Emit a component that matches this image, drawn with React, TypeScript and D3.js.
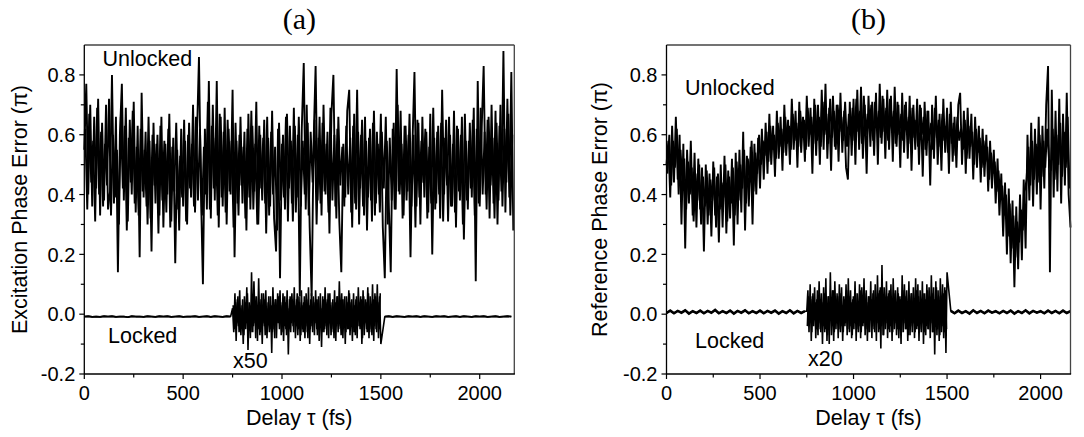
import React from "react";
import * as d3 from "d3";

// ---------- DATA ----------
// Panel (a): excitation phase error, unlocked. Samples every 10 fs from 0 fs,
// plus the interleaved samples every 10 fs from 5 fs.
const aUnlockedStep = 10;
const aUnlocked = [
  0.55, 0.77, 0.40, 0.70, 0.36, 0.66, 0.42, 0.72, 0.33, 0.64,
  0.38, 0.70, 0.35, 0.41, 0.80, 0.37, 0.66, 0.14, 0.60, 0.77,
  0.38, 0.69, 0.31, 0.65, 0.40, 0.71, 0.34, 0.63, 0.19, 0.74,
  0.39, 0.61, 0.30, 0.58, 0.21, 0.64, 0.37, 0.60, 0.33, 0.66,
  0.29, 0.57, 0.40, 0.67, 0.31, 0.59, 0.17, 0.55, 0.28, 0.62,
  0.36, 0.58, 0.30, 0.64, 0.39, 0.70, 0.34, 0.60, 0.86, 0.41,
  0.10, 0.62, 0.35, 0.78, 0.32, 0.70, 0.38, 0.78, 0.29, 0.66,
  0.36, 0.69, 0.30, 0.62, 0.40, 0.75, 0.19, 0.58, 0.33, 0.66,
  0.37, 0.61, 0.28, 0.67, 0.35, 0.63, 0.41, 0.71, 0.30, 0.60,
  0.38, 0.65, 0.27, 0.59, 0.36, 0.68, 0.32, 0.21, 0.62, 0.12,
  0.57, 0.39, 0.66, 0.31, 0.63, 0.37, 0.69, 0.34, 0.60, 0.06,
  0.62, 0.84, 0.35, 0.64, 0.29, 0.06, 0.58, 0.83, 0.38, 0.66,
  0.33, 0.70, 0.40, 0.61, 0.27, 0.67, 0.80, 0.36, 0.62, 0.31,
  0.14, 0.57, 0.39, 0.68, 0.75, 0.34, 0.63, 0.37, 0.75, 0.30,
  0.60, 0.36, 0.66, 0.28, 0.59, 0.38, 0.64, 0.33, 0.61, 0.40,
  0.67, 0.29, 0.12, 0.58, 0.37, 0.14, 0.62, 0.35, 0.82, 0.41,
  0.68, 0.32, 0.63, 0.38, 0.60, 0.19, 0.57, 0.81, 0.36, 0.64,
  0.30, 0.66, 0.39, 0.61, 0.34, 0.67, 0.20, 0.59, 0.37, 0.63,
  0.32, 0.75, 0.40, 0.65, 0.31, 0.60, 0.36, 0.68, 0.29, 0.62,
  0.38, 0.66, 0.25, 0.58, 0.35, 0.64, 0.39, 0.69, 0.11, 0.78,
  0.36, 0.62, 0.83, 0.40, 0.65, 0.32, 0.70, 0.37, 0.68, 0.30,
  0.63, 0.41, 0.88, 0.34, 0.72, 0.39, 0.81, 0.28,
];
const aUnlockedMidStart = 5;
const aUnlockedMid = [
  0.62, 0.35, 0.67, 0.44, 0.58, 0.31, 0.69, 0.40, 0.61, 0.36,
  0.57, 0.43, 0.72, 0.33, 0.60, 0.39, 0.55, 0.30, 0.66, 0.42,
  0.63, 0.28, 0.59, 0.44, 0.68, 0.37, 0.56, 0.33, 0.62, 0.41,
  0.55, 0.36, 0.66, 0.32, 0.60, 0.43, 0.57, 0.27, 0.63, 0.38,
  0.58, 0.34, 0.62, 0.29, 0.56, 0.41, 0.64, 0.35, 0.53, 0.39,
  0.65, 0.31, 0.60, 0.42, 0.57, 0.36, 0.66, 0.38, 0.62, 0.33,
  0.56, 0.40, 0.71, 0.35, 0.63, 0.42, 0.59, 0.33, 0.67, 0.39,
  0.61, 0.34, 0.65, 0.41, 0.58, 0.29, 0.64, 0.37, 0.60, 0.43,
  0.56, 0.32, 0.62, 0.39, 0.68, 0.35, 0.57, 0.30, 0.63, 0.42,
  0.59, 0.37, 0.66, 0.33, 0.61, 0.40, 0.56, 0.28, 0.64, 0.38,
  0.60, 0.35, 0.67, 0.42, 0.58, 0.31, 0.63, 0.39, 0.66, 0.36,
  0.58, 0.40, 0.70, 0.33, 0.61, 0.44, 0.65, 0.30, 0.59, 0.37,
  0.64, 0.41, 0.57, 0.34, 0.69, 0.38, 0.60, 0.32, 0.66, 0.43,
  0.56, 0.36, 0.63, 0.40, 0.59, 0.29, 0.67, 0.35, 0.61, 0.42,
  0.65, 0.33, 0.58, 0.39, 0.62, 0.31, 0.68, 0.37, 0.57, 0.34,
  0.61, 0.42, 0.66, 0.30, 0.59, 0.38, 0.64, 0.35, 0.70, 0.40,
  0.57, 0.33, 0.63, 0.41, 0.67, 0.36, 0.60, 0.29, 0.65, 0.39,
  0.58, 0.44, 0.62, 0.32, 0.56, 0.37, 0.69, 0.35, 0.61, 0.40,
  0.64, 0.31, 0.59, 0.43, 0.66, 0.36, 0.57, 0.34, 0.63, 0.41,
  0.60, 0.30, 0.67, 0.38, 0.58, 0.42, 0.65, 0.33, 0.62, 0.37,
  0.69, 0.40, 0.61, 0.35, 0.66, 0.43, 0.59, 0.32, 0.64, 0.38,
  0.70, 0.36, 0.62, 0.44, 0.67, 0.33, 0.60,
];

// Panel (a): locked trace (flat parts every 20 fs, x50 part every 6 fs from 750 fs)
const aLockedPreStep = 20; // 0 .. 740 fs
const aLockedPre = [
  -0.008, -0.007, -0.009, -0.008, -0.009, -0.007, -0.008, -0.007, -0.009, -0.008,
  -0.008, -0.010, -0.007, -0.008, -0.008, -0.009, -0.007, -0.008, -0.009, -0.007,
  -0.008, -0.007, -0.009, -0.008, -0.007, -0.009, -0.008, -0.008, -0.007, -0.009,
  -0.008, -0.007, -0.009, -0.007, -0.008, -0.009, -0.007, -0.008,
];
const aLockedX50Start = 750;
const aLockedX50Step = 6; // 750 .. 1500 fs
const aLockedX50 = [
  0.02, -0.06, 0.07, -0.09, 0.05, -0.04, 0.08, -0.07, 0.03, -0.10,
  0.06, -0.05, 0.09, -0.12, 0.04, -0.08, 0.14, -0.06, 0.11, -0.03,
  0.06, -0.09, 0.12, -0.07, 0.05, -0.10, 0.07, -0.04, 0.08, -0.08,
  0.04, -0.06, 0.06, -0.13, 0.09, -0.05, 0.05, -0.08, 0.07, -0.03,
  0.08, -0.07, 0.04, -0.09, 0.06, -0.05, 0.08, -0.135, 0.05, -0.06,
  0.07, -0.04, 0.09, -0.08, 0.05, -0.07, 0.06, -0.09, 0.08, -0.05,
  0.04, -0.08, 0.07, -0.06, 0.09, -0.10, 0.05, -0.04, 0.06, -0.07,
  0.08, -0.05, 0.05, -0.09, 0.07, -0.11, 0.06, -0.06, 0.09, -0.04,
  0.05, -0.08, 0.07, -0.07, 0.04, -0.05, 0.08, -0.09, 0.06, -0.06,
  0.11, -0.04, 0.07, -0.08, 0.05, -0.10, 0.06, -0.05, 0.08, -0.07,
  0.04, -0.09, 0.07, -0.06, 0.05, -0.08, 0.09, -0.04, 0.06, -0.10,
  0.08, -0.07, 0.05, -0.05, 0.09, -0.08, 0.06, -0.06, 0.10, -0.09,
  0.07, -0.05, 0.10, -0.08, 0.06, -0.10,
];
const aLockedX50MidStart = 753; // interleaved samples, 753 .. 1497 fs
const aLockedX50Mid = [
  0.03, -0.05, 0.04, -0.03, 0.06, -0.06, 0.02, -0.04, 0.05, -0.07,
  0.04, -0.03, 0.07, -0.05, 0.03, -0.06, 0.05, -0.04, 0.06, -0.08,
  0.03, -0.05, 0.04, -0.06, 0.07, -0.03, 0.05, -0.07, 0.02, -0.04,
  0.06, -0.05, 0.03, -0.06, 0.04, -0.08, 0.05, -0.03, 0.06, -0.05,
  0.03, -0.06, 0.07, -0.04, 0.04, -0.07, 0.02, -0.05, 0.06, -0.03,
  0.05, -0.06, 0.03, -0.04, 0.07, -0.05, 0.04, -0.07, 0.03, -0.06,
  0.06, -0.04, 0.05, -0.08, 0.03, -0.05, 0.07, -0.06, 0.04, -0.03,
  0.05, -0.07, 0.06, -0.04, 0.02, -0.06, 0.05, -0.05, 0.04, -0.07,
  0.07, -0.03, 0.03, -0.06, 0.05, -0.08, 0.04, -0.04, 0.06, -0.05,
  0.03, -0.07, 0.05, -0.03, 0.06, -0.06, 0.04, -0.05, 0.07, -0.04,
  0.05, -0.06, 0.03, -0.07, 0.06, -0.04, 0.04, -0.05, 0.05, -0.08,
  0.06, -0.03, 0.04, -0.06, 0.07, -0.05, 0.03, -0.07, 0.05, -0.04,
  0.06, -0.06, 0.04, -0.05, 0.07,
];
const aLockedPostStart = 1520;
const aLockedPostStep = 20; // 1520 .. 2160 fs
const aLockedPost = [
  -0.008, -0.007, -0.009, -0.007, -0.008, -0.009, -0.007, -0.008, -0.007, -0.009,
  -0.007, -0.008, -0.009, -0.007, -0.008, -0.007, -0.009, -0.008, -0.007, -0.009,
  -0.007, -0.008, -0.009, -0.007, -0.008, -0.007, -0.009, -0.008, -0.007, -0.009,
  -0.008, -0.007, -0.008,
];

// Panel (b): reference phase error, unlocked. Samples every 10 fs from 0 fs,
// plus the interleaved samples every 10 fs from 5 fs.
const bUnlockedStep = 10;
const bUnlocked = [
  0.50, 0.58, 0.39, 0.63, 0.44, 0.66, 0.45, 0.60, 0.30, 0.57,
  0.22, 0.55, 0.37, 0.58, 0.33, 0.54, 0.29, 0.52, 0.35, 0.49,
  0.21, 0.50, 0.30, 0.47, 0.26, 0.51, 0.33, 0.46, 0.24, 0.50,
  0.29, 0.53, 0.27, 0.48, 0.32, 0.52, 0.23, 0.54, 0.30, 0.55,
  0.34, 0.61, 0.28, 0.53, 0.36, 0.56, 0.30, 0.57, 0.40, 0.59,
  0.42, 0.62, 0.45, 0.64, 0.47, 0.67, 0.50, 0.63, 0.46, 0.68,
  0.52, 0.66, 0.48, 0.70, 0.53, 0.65, 0.50, 0.72, 0.55, 0.68,
  0.49, 0.71, 0.54, 0.66, 0.51, 0.73, 0.56, 0.69, 0.47, 0.72,
  0.53, 0.70, 0.50, 0.75, 0.55, 0.77, 0.52, 0.69, 0.48, 0.73,
  0.56, 0.70, 0.51, 0.74, 0.54, 0.68, 0.49, 0.45, 0.71, 0.53,
  0.72, 0.50, 0.75, 0.55, 0.76, 0.52, 0.70, 0.47, 0.73, 0.56,
  0.71, 0.53, 0.74, 0.50, 0.77, 0.57, 0.72, 0.52, 0.75, 0.55,
  0.73, 0.51, 0.76, 0.56, 0.70, 0.49, 0.74, 0.54, 0.71, 0.52,
  0.73, 0.48, 0.70, 0.55, 0.72, 0.50, 0.69, 0.46, 0.71, 0.53,
  0.68, 0.43, 0.70, 0.52, 0.73, 0.50, 0.67, 0.48, 0.72, 0.54,
  0.69, 0.47, 0.71, 0.51, 0.66, 0.49, 0.70, 0.74, 0.50, 0.68,
  0.47, 0.69, 0.52, 0.67, 0.45, 0.66, 0.49, 0.63, 0.44, 0.62,
  0.46, 0.60, 0.41, 0.58, 0.42, 0.55, 0.37, 0.52, 0.33, 0.47,
  0.26, 0.44, 0.20, 0.42, 0.17, 0.38, 0.09, 0.36, 0.15, 0.40,
  0.18, 0.45, 0.22, 0.60, 0.38, 0.64, 0.36, 0.62, 0.40, 0.66,
  0.35, 0.63, 0.42, 0.70, 0.83, 0.14, 0.75, 0.39, 0.68, 0.41,
  0.72, 0.37, 0.67, 0.43, 0.74, 0.40, 0.29,
];
const bUnlockedMidStart = 5;
const bUnlockedMid = [
  0.47, 0.60, 0.43, 0.58, 0.49, 0.62, 0.40, 0.55, 0.44, 0.52,
  0.35, 0.51, 0.40, 0.49, 0.31, 0.47, 0.38, 0.50, 0.30, 0.46,
  0.36, 0.48, 0.33, 0.45, 0.38, 0.49, 0.29, 0.47, 0.35, 0.44,
  0.39, 0.50, 0.31, 0.46, 0.37, 0.49, 0.33, 0.51, 0.38, 0.50,
  0.42, 0.55, 0.37, 0.52, 0.44, 0.58, 0.41, 0.54, 0.47, 0.60,
  0.50, 0.58, 0.53, 0.61, 0.51, 0.63, 0.55, 0.60, 0.52, 0.64,
  0.56, 0.62, 0.54, 0.66, 0.57, 0.63, 0.55, 0.67, 0.58, 0.64,
  0.56, 0.68, 0.59, 0.65, 0.55, 0.69, 0.60, 0.66, 0.57, 0.70,
  0.58, 0.66, 0.56, 0.71, 0.60, 0.67, 0.57, 0.72, 0.59, 0.68,
  0.55, 0.70, 0.61, 0.66, 0.58, 0.71, 0.56, 0.67, 0.60, 0.69,
  0.58, 0.72, 0.61, 0.68, 0.57, 0.73, 0.60, 0.67, 0.62, 0.70,
  0.58, 0.71, 0.62, 0.68, 0.59, 0.73, 0.61, 0.69, 0.58, 0.72,
  0.62, 0.68, 0.57, 0.71, 0.60, 0.67, 0.58, 0.70, 0.61, 0.66,
  0.57, 0.69, 0.59, 0.65, 0.56, 0.70, 0.60, 0.66, 0.55, 0.68,
  0.58, 0.64, 0.55, 0.69, 0.59, 0.65, 0.56, 0.67, 0.58, 0.63,
  0.54, 0.67, 0.57, 0.64, 0.53, 0.66, 0.58, 0.62, 0.55, 0.65,
  0.52, 0.63, 0.56, 0.61, 0.50, 0.62, 0.54, 0.59, 0.49, 0.58,
  0.51, 0.56, 0.45, 0.54, 0.47, 0.51, 0.41, 0.48, 0.38, 0.43,
  0.33, 0.40, 0.26, 0.37, 0.22, 0.33, 0.19, 0.31, 0.24, 0.35,
  0.28, 0.41, 0.45, 0.56, 0.43, 0.58, 0.45, 0.57, 0.44, 0.60,
  0.46, 0.58, 0.49, 0.62, 0.52, 0.48, 0.62, 0.45, 0.60, 0.50,
  0.64, 0.46, 0.61, 0.49, 0.66, 0.42,
];

// Panel (b): locked trace (flat parts every 20 fs, x20 part every 6 fs from 750 fs)
const bLockedPreStep = 20; // 0 .. 740 fs
const bLockedPre = [
  0.004, 0.012, 0.003, 0.011, 0.005, 0.013, 0.002, 0.010, 0.004, 0.012,
  0.003, 0.011, 0.005, 0.014, 0.003, 0.010, 0.004, 0.012, 0.002, 0.011,
  0.005, 0.013, 0.003, 0.010, 0.004, 0.012, 0.003, 0.011, 0.005, 0.012,
  0.002, 0.010, 0.004, 0.013, 0.003, 0.011, 0.004, 0.010,
];
const bLockedX20Start = 750;
const bLockedX20Step = 6; // 750 .. 1500 fs
const bLockedX20 = [
  0.01, 0.08, -0.06, 0.10, -0.09, 0.06, -0.04, 0.09, -0.08, 0.05,
  -0.07, 0.11, -0.05, 0.07, -0.10, 0.09, -0.06, 0.12, -0.09, 0.06,
  -0.10, 0.14, -0.07, 0.08, -0.09, 0.11, -0.05, 0.07, -0.08, 0.10,
  -0.06, 0.09, -0.09, 0.06, -0.04, 0.10, -0.07, 0.12, -0.06, 0.08,
  -0.08, 0.05, -0.05, 0.11, -0.09, 0.07, -0.06, 0.10, -0.08, 0.09,
  -0.04, 0.12, -0.07, 0.08, -0.09, 0.06, -0.06, 0.11, -0.08, 0.07,
  -0.05, 0.10, -0.09, 0.13, -0.06, 0.08, -0.115, 0.164, -0.07, 0.09,
  -0.05, 0.11, -0.08, 0.07, -0.06, 0.10, -0.09, 0.12, -0.05, 0.08,
  -0.07, 0.09, -0.08, 0.06, -0.10, 0.13, -0.06, 0.10, -0.05, 0.08,
  -0.09, 0.11, -0.07, 0.07, -0.06, 0.09, -0.08, 0.12, -0.05, 0.10,
  -0.09, 0.08, -0.06, 0.11, -0.10, 0.07, -0.07, 0.10, -0.05, 0.09,
  -0.08, 0.13, -0.06, 0.09, -0.135, 0.11, -0.07, 0.08, -0.09, 0.12,
  -0.06, 0.10, -0.08, 0.09, -0.13, 0.14,
];
const bLockedX20MidStart = 753; // interleaved samples, 753 .. 1497 fs
const bLockedX20Mid = [
  -0.04, 0.06, -0.03, 0.05, -0.06, 0.07, -0.02, 0.04, -0.05, 0.08,
  -0.03, 0.05, -0.06, 0.04, -0.04, 0.07, -0.05, 0.03, -0.07, 0.06,
  -0.02, 0.05, -0.04, 0.08, -0.06, 0.04, -0.03, 0.06, -0.05, 0.07,
  -0.04, 0.03, -0.06, 0.05, -0.03, 0.08, -0.05, 0.06, -0.04, 0.04,
  -0.07, 0.06, -0.03, 0.07, -0.05, 0.04, -0.04, 0.08, -0.06, 0.05,
  -0.03, 0.07, -0.05, 0.04, -0.06, 0.06, -0.02, 0.05, -0.04, 0.08,
  -0.06, 0.05, -0.03, 0.07, -0.05, 0.09, -0.04, 0.06, -0.07, 0.04,
  -0.03, 0.06, -0.05, 0.08, -0.04, 0.05, -0.06, 0.07, -0.03, 0.04,
  -0.05, 0.07, -0.04, 0.05, -0.06, 0.08, -0.03, 0.06, -0.05, 0.04,
  -0.07, 0.06, -0.04, 0.07, -0.03, 0.05, -0.06, 0.08, -0.04, 0.06,
  -0.05, 0.04, -0.03, 0.07, -0.06, 0.05, -0.04, 0.08, -0.05, 0.06,
  -0.03, 0.07, -0.06, 0.05, -0.04, 0.09, -0.05, 0.06, -0.07, 0.05,
  -0.04, 0.07, -0.06, 0.08, -0.05,
];
const bLockedPostStart = 1520;
const bLockedPostStep = 20; // 1520 .. 2160 fs
const bLockedPost = [
  0.011, 0.003, 0.012, 0.004, 0.010, 0.002, 0.013, 0.004, 0.011, 0.003,
  0.012, 0.005, 0.010, 0.003, 0.011, 0.004, 0.012, 0.002, 0.010, 0.004,
  0.013, 0.003, 0.011, 0.005, 0.010, 0.003, 0.012, 0.004, 0.011, 0.003,
  0.012, 0.004, 0.010,
];

const xTicks = [0, 500, 1000, 1500, 2000];
const xMinorTicks = [250, 750, 1250, 1750];
const yTicks = [-0.2, 0.0, 0.2, 0.4, 0.6, 0.8];
const yMinorTicks = [-0.1, 0.1, 0.3, 0.5, 0.7];

type Pt = [number, number];

const toPts = (vals: number[], start: number, step: number): Pt[] =>
  vals.map((v, i) => [start + i * step, v] as Pt);

const SANS = "'Liberation Sans', Arial, Helvetica, sans-serif";
const SERIF = "'Liberation Serif', 'Times New Roman', serif";

interface PanelProps {
  x0: number;
  x1: number;
  xMax: number;
  title: string;
  yTitle: string;
  yTitleX: number;
  unlocked: Pt[][];
  locked: Pt[];
  lockedMid: Pt[];
  flat: Pt[][];
  flatWidth: number;
  unlockedLabel: [number, number];
  lockedLabel: [number, number];
  gainLabel: string;
  gainPos: [number, number];
}

const Y_TOP = 45;
const Y_BOTTOM = 374;

function Panel(p: PanelProps) {
  const x = d3.scaleLinear().domain([0, p.xMax]).range([p.x0, p.x1]);
  const y = d3.scaleLinear().domain([-0.2, 0.9]).range([Y_BOTTOM, Y_TOP]);
  const line = d3
    .line<Pt>()
    .x((d) => x(d[0]))
    .y((d) => y(d[1]));
  const cx = (p.x0 + p.x1) / 2;
  const cy = (Y_TOP + Y_BOTTOM) / 2;
  const fmt = (t: number) => d3.format(".1f")(t).replace("\u2212", "-");
  return (
    <g>
      <text x={cx} y={29} textAnchor="middle" fontFamily={SERIF} fontSize={30} fill="#000">
        {p.title}
      </text>
      {/* data */}
      {p.unlocked.map((s, i) => (
        <path key={"u" + i} d={line(s) || ""} fill="none" stroke="#000" strokeWidth={1.9} strokeLinejoin="bevel" />
      ))}
      <path d={line(p.locked) || ""} fill="none" stroke="#000" strokeWidth={1.6} strokeLinejoin="bevel" />
      <path d={line(p.lockedMid) || ""} fill="none" stroke="#000" strokeWidth={1.6} strokeLinejoin="bevel" />
      {p.flat.map((s, i) => (
        <path key={"f" + i} d={line(s) || ""} fill="none" stroke="#000" strokeWidth={p.flatWidth} />
      ))}
      {/* frame */}
      <line x1={p.x0} x2={p.x1} y1={Y_TOP} y2={Y_TOP} stroke="#444" strokeWidth={1.3} />
      <line x1={p.x1} x2={p.x1} y1={Y_TOP} y2={Y_BOTTOM} stroke="#444" strokeWidth={1.3} />
      <line x1={p.x0} x2={p.x1 + 0.6} y1={Y_BOTTOM} y2={Y_BOTTOM} stroke="#000" strokeWidth={1.3} />
      <line x1={p.x0} x2={p.x0} y1={Y_TOP} y2={Y_BOTTOM} stroke="#000" strokeWidth={1.3} />
      {/* x ticks */}
      {xTicks.map((t) => (
        <g key={"xt" + t}>
          <line x1={x(t)} x2={x(t)} y1={Y_BOTTOM} y2={Y_BOTTOM + 5} stroke="#000" strokeWidth={1.2} />
          <text x={x(t)} y={400} textAnchor="middle" fontFamily={SANS} fontSize={20} fill="#000">
            {t}
          </text>
        </g>
      ))}
      {xMinorTicks.map((t) => (
        <line key={"xm" + t} x1={x(t)} x2={x(t)} y1={Y_BOTTOM} y2={Y_BOTTOM + 3.5} stroke="#000" strokeWidth={1.2} />
      ))}
      {/* y ticks */}
      {yTicks.map((t) => (
        <g key={"yt" + t}>
          <line x1={p.x0 - 5} x2={p.x0} y1={y(t)} y2={y(t)} stroke="#000" strokeWidth={1.2} />
          <text x={p.x0 - 9} y={y(t)} dy="0.36em" textAnchor="end" fontFamily={SANS} fontSize={20} fill="#000">
            {fmt(t)}
          </text>
        </g>
      ))}
      {yMinorTicks.map((t) => (
        <line key={"ym" + t} x1={p.x0 - 3.5} x2={p.x0} y1={y(t)} y2={y(t)} stroke="#000" strokeWidth={1.2} />
      ))}
      {/* axis titles */}
      <text x={cx} y={425} textAnchor="middle" fontFamily={SANS} fontSize={21.5} fill="#000">
        Delay τ (fs)
      </text>
      <text
        transform={`translate(${p.yTitleX},${cy}) rotate(-90)`}
        textAnchor="middle"
        fontFamily={SANS}
        fontSize={21.5}
        fill="#000"
      >
        {p.yTitle}
      </text>
      {/* annotations */}
      <text x={p.unlockedLabel[0]} y={p.unlockedLabel[1]} fontFamily={SANS} fontSize={21.5} fill="#000">
        Unlocked
      </text>
      <text x={p.lockedLabel[0]} y={p.lockedLabel[1]} fontFamily={SANS} fontSize={21.5} fill="#000">
        Locked
      </text>
      <text x={p.gainPos[0]} y={p.gainPos[1]} fontFamily={SANS} fontSize={21.5} fill="#000">
        {p.gainLabel}
      </text>
    </g>
  );
}

export default function App() {
  const aUn = [toPts(aUnlocked, 0, aUnlockedStep), toPts(aUnlockedMid, aUnlockedMidStart, aUnlockedStep)];
  const aPre = toPts(aLockedPre, 0, aLockedPreStep);
  const aPost = toPts(aLockedPost, aLockedPostStart, aLockedPostStep);
  const aLk = [...aPre, ...toPts(aLockedX50, aLockedX50Start, aLockedX50Step), ...aPost];
  const aLkMid = toPts(aLockedX50Mid, aLockedX50MidStart, aLockedX50Step);

  const bUn = [toPts(bUnlocked, 0, bUnlockedStep), toPts(bUnlockedMid, bUnlockedMidStart, bUnlockedStep)];
  const bPre = toPts(bLockedPre, 0, bLockedPreStep);
  const bPost = toPts(bLockedPost, bLockedPostStart, bLockedPostStep);
  const bLk = [...bPre, ...toPts(bLockedX20, bLockedX20Start, bLockedX20Step), ...bPost];
  const bLkMid = toPts(bLockedX20Mid, bLockedX20MidStart, bLockedX20Step);

  return (
    <svg
      width={1084}
      height={437}
      viewBox="0 0 1084 437"
      style={{ position: "absolute", left: 0, top: 0, background: "#fff" }}
    >
      <rect x={0} y={0} width={1084} height={437} fill="#fff" />
      <Panel
        x0={84.3}
        x1={514.3}
        xMax={2175}
        title="(a)"
        yTitle="Excitation Phase Error (π)"
        yTitleX={27}
        unlocked={aUn}
        locked={aLk}
        lockedMid={aLkMid}
        flat={[aPre, aPost]}
        flatWidth={1.8}
        unlockedLabel={[102.5, 66]}
        lockedLabel={[108, 343]}
        gainLabel="x50"
        gainPos={[233, 368]}
      />
      <Panel
        x0={666.5}
        x1={1070.5}
        xMax={2160}
        title="(b)"
        yTitle="Reference Phase Error (π)"
        yTitleX={607}
        unlocked={bUn}
        locked={bLk}
        lockedMid={bLkMid}
        flat={[bPre, bPost]}
        flatWidth={2.6}
        unlockedLabel={[685, 95]}
        lockedLabel={[695, 348]}
        gainLabel="x20"
        gainPos={[808, 366]}
      />
    </svg>
  );
}
